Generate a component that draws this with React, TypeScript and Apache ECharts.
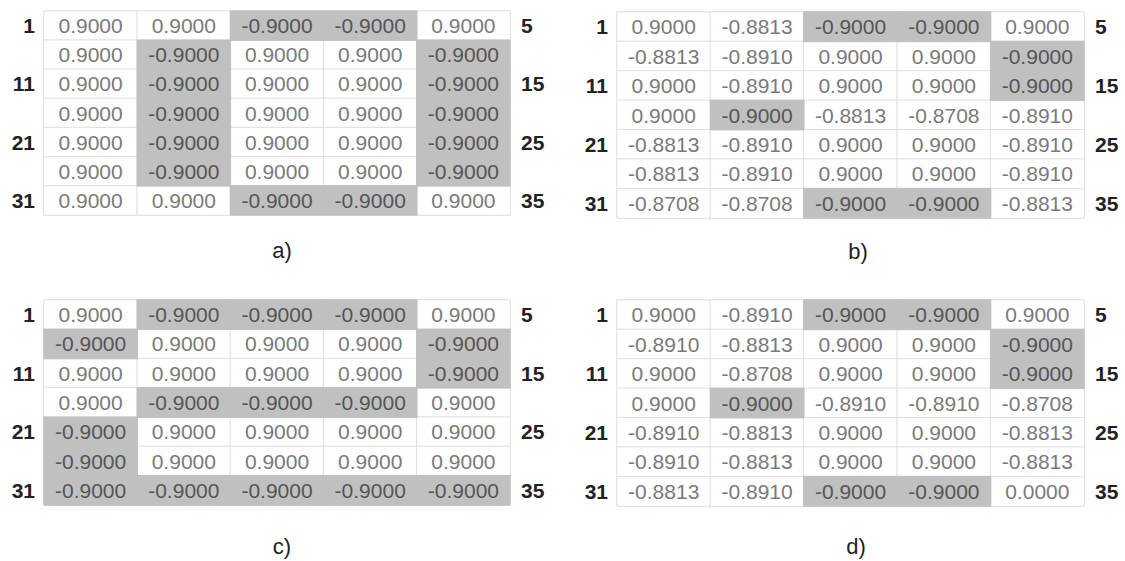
import React, { useEffect, useRef } from "react";
import * as echarts from "echarts";

const columns = ["c1", "c2", "c3", "c4", "c5"];
const rows = ["r1", "r6", "r11", "r16", "r21", "r26", "r31"];
const leftLabels = ["1", "", "11", "", "21", "", "31"];
const rightLabels = ["5", "", "15", "", "25", "", "35"];
const panelNames = ["a)", "b)", "c)", "d)"];

const panelA = [
  [0.9, 0.9, -0.9, -0.9, 0.9],
  [0.9, -0.9, 0.9, 0.9, -0.9],
  [0.9, -0.9, 0.9, 0.9, -0.9],
  [0.9, -0.9, 0.9, 0.9, -0.9],
  [0.9, -0.9, 0.9, 0.9, -0.9],
  [0.9, -0.9, 0.9, 0.9, -0.9],
  [0.9, 0.9, -0.9, -0.9, 0.9],
];
const panelB = [
  [0.9, -0.8813, -0.9, -0.9, 0.9],
  [-0.8813, -0.891, 0.9, 0.9, -0.9],
  [0.9, -0.891, 0.9, 0.9, -0.9],
  [0.9, -0.9, -0.8813, -0.8708, -0.891],
  [-0.8813, -0.891, 0.9, 0.9, -0.891],
  [-0.8813, -0.891, 0.9, 0.9, -0.891],
  [-0.8708, -0.8708, -0.9, -0.9, -0.8813],
];
const panelC = [
  [0.9, -0.9, -0.9, -0.9, 0.9],
  [-0.9, 0.9, 0.9, 0.9, -0.9],
  [0.9, 0.9, 0.9, 0.9, -0.9],
  [0.9, -0.9, -0.9, -0.9, 0.9],
  [-0.9, 0.9, 0.9, 0.9, 0.9],
  [-0.9, 0.9, 0.9, 0.9, 0.9],
  [-0.9, -0.9, -0.9, -0.9, -0.9],
];
const panelD = [
  [0.9, -0.891, -0.9, -0.9, 0.9],
  [-0.891, -0.8813, 0.9, 0.9, -0.9],
  [0.9, -0.8708, 0.9, 0.9, -0.9],
  [0.9, -0.9, -0.891, -0.891, -0.8708],
  [-0.891, -0.8813, 0.9, 0.9, -0.8813],
  [-0.891, -0.8813, 0.9, 0.9, -0.8813],
  [-0.8813, -0.891, -0.9, -0.9, 0.0],
];

const panels = [panelA, panelB, panelC, panelD];

const GRAY = "#c0c0c0";
const BORDER = "#dedede";
const FONT = "Liberation Sans, Arial, sans-serif";

const grids = [
  { left: 44, top: 11, width: 466, height: 204 },
  { left: 617, top: 12, width: 467, height: 206 },
  { left: 44, top: 300, width: 466, height: 205 },
  { left: 617, top: 300, width: 467, height: 206 },
];
const captionPos = [
  [282, 250],
  [858, 251],
  [282, 546],
  [856, 546],
];

export default function App() {
  const ref = useRef<HTMLDivElement>(null);
  useEffect(() => {
    if (!ref.current) return;
    const chart = echarts.init(ref.current, null, { renderer: "svg" });
    const xAxis: any[] = [];
    const yAxis: any[] = [];
    const series: any[] = [];
    panels.forEach((panel, p) => {
      xAxis.push({
        type: "category",
        gridIndex: p,
        data: columns,
        show: false,
      });
      yAxis.push({
        type: "category",
        gridIndex: p,
        data: rows,
        inverse: true,
        position: "left",
        axisLine: { show: false },
        axisTick: { show: false },
        splitLine: { show: false },
        axisLabel: {
          interval: 0,
          margin: 9,
          fontFamily: FONT,
          fontWeight: "bold",
          fontSize: 21,
          color: "#222",
          formatter: (_v: string, i: number) => leftLabels[i],
        },
      });
      yAxis.push({
        type: "category",
        gridIndex: p,
        data: rows,
        inverse: true,
        position: "right",
        axisLine: { show: false },
        axisTick: { show: false },
        splitLine: { show: false },
        axisLabel: {
          interval: 0,
          margin: 11,
          fontFamily: FONT,
          fontWeight: "bold",
          fontSize: 21,
          color: "#222",
          padding: [5, 0, 0, 0],
          formatter: (_v: string, i: number) => rightLabels[i],
        },
      });
      const data: any[] = [];
      panel.forEach((row, r) => {
        row.forEach((v, c) => {
          const shaded = v === -0.9;
          data.push({
            value: [c, r, v],
            shaded,
            itemStyle: {
              borderColor: shaded ? GRAY : BORDER,
              borderWidth: 1,
            },
            label: { color: shaded ? "#555" : "#7a7a7a" },
          });
        });
      });
      // draw white cells first so gray cells cover shared borders
      data.sort((a, b) => (a.shaded ? 1 : 0) - (b.shaded ? 1 : 0));
      data.forEach((d) => delete d.shaded);
      series.push({
        type: "heatmap",
        xAxisIndex: p,
        yAxisIndex: p * 2,
        data,
        label: {
          show: true,
          fontFamily: FONT,
          fontSize: 21,
          formatter: (pr: any) => pr.value[2].toFixed(4),
        },
        emphasis: { disabled: true },
      });
    });
    chart.setOption({
      animation: false,
      backgroundColor: "#ffffff",
      grid: grids.map((g) => ({ ...g, containLabel: false })),
      xAxis,
      yAxis,
      series,
      visualMap: {
        type: "piecewise",
        show: false,
        dimension: 2,
        seriesIndex: [0, 1, 2, 3],
        pieces: [
          { lte: -0.8999, color: GRAY },
          { gt: -0.8999, color: "#ffffff" },
        ],
      },
      graphic: panelNames.map((n, i) => ({
        type: "text",
        x: captionPos[i][0],
        y: captionPos[i][1],
        style: {
          text: n,
          fontFamily: FONT,
          fontSize: 22,
          fill: "#222",
          textAlign: "center",
          textVerticalAlign: "middle",
        },
      })),
    });
    return () => chart.dispose();
  }, []);
  return (
    <div
      ref={ref}
      style={{ position: "absolute", left: 0, top: 0, width: 1125, height: 561, background: "#fff" }}
    />
  );
}
